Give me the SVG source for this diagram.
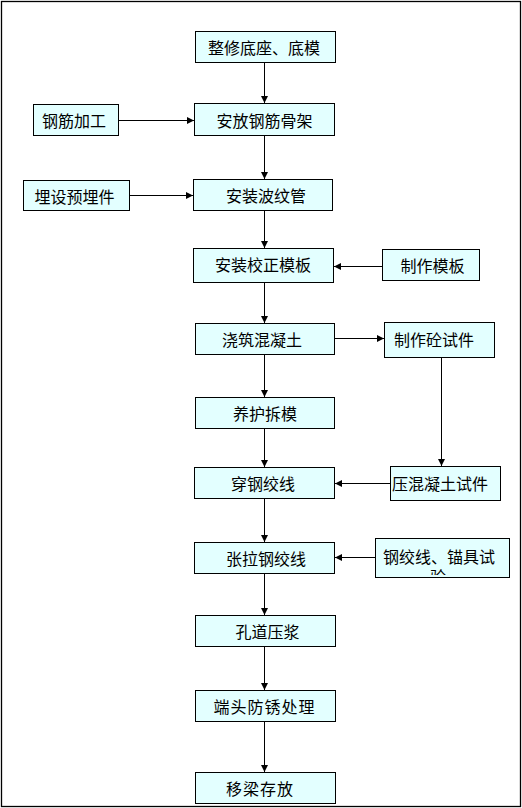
<svg xmlns="http://www.w3.org/2000/svg" width="522" height="808" viewBox="0 0 522 808">
<style>
.box{fill:#E3FFFF;stroke:#000;stroke-width:1}
.t{font-family:"Noto Sans CJK SC","Noto Sans",sans-serif;font-size:16px;fill:#000;dominant-baseline:central;text-anchor:middle}
.ts{text-anchor:start}
.c{stroke:#000;stroke-width:1;fill:none;marker-end:url(#ah)}
</style>
<defs>
<marker id="ah" markerUnits="userSpaceOnUse" markerWidth="8" markerHeight="8" refX="7" refY="3.5" orient="auto">
<path d="M0,0 L7,3.5 L0,7 Z" fill="#000"/>
</marker>
<clipPath id="clip14"><rect x="376" y="539" width="133" height="36"/></clipPath>
</defs>
<rect x="1.5" y="1.5" width="519" height="805" fill="#fff" stroke="#000" stroke-width="1.3"/>
<g id="connectors">
<line class="c" x1="264.5" y1="62" x2="264.5" y2="103"/>
<line class="c" x1="118" y1="120.5" x2="194" y2="120.5"/>
<line class="c" x1="264.5" y1="135" x2="264.5" y2="179"/>
<line class="c" x1="129" y1="195.5" x2="193" y2="195.5"/>
<line class="c" x1="264.5" y1="210" x2="264.5" y2="248"/>
<line class="c" x1="382" y1="266.5" x2="334" y2="266.5"/>
<line class="c" x1="264.5" y1="282" x2="264.5" y2="323"/>
<line class="c" x1="335" y1="338.5" x2="384" y2="338.5"/>
<line class="c" x1="264.5" y1="354" x2="264.5" y2="397"/>
<line class="c" x1="441.5" y1="357" x2="441.5" y2="466"/>
<line class="c" x1="264.5" y1="428" x2="264.5" y2="467"/>
<line class="c" x1="390" y1="483.5" x2="335" y2="483.5"/>
<line class="c" x1="264.5" y1="498" x2="264.5" y2="542"/>
<line class="c" x1="375" y1="557.5" x2="335" y2="557.5"/>
<line class="c" x1="264.5" y1="573" x2="264.5" y2="615"/>
<line class="c" x1="264.5" y1="646" x2="264.5" y2="690"/>
<line class="c" x1="264.5" y1="721" x2="264.5" y2="772"/>
</g>
<g id="n1"><rect class="box" x="195.5" y="31.5" width="140" height="31"/><text class="t" x="264" y="47">整修底座、底模</text></g>
<g id="n2"><rect class="box" x="33.5" y="104.5" width="85" height="31"/><text class="t" x="74" y="120">钢筋加工</text></g>
<g id="n3"><rect class="box" x="194.5" y="103.5" width="140" height="32"/><text class="t" x="264.5" y="119.5">安放钢筋骨架</text></g>
<g id="n4"><rect class="box" x="23.5" y="180.5" width="106" height="30"/><text class="t" x="74.5" y="195.5">埋设预埋件</text></g>
<g id="n5"><rect class="box" x="193.5" y="179.5" width="139" height="31"/><text class="t" x="266" y="195">安装波纹管</text></g>
<g id="n6"><rect class="box" x="193.5" y="248.5" width="140" height="34"/><text class="t" x="263" y="264">安装校正模板</text></g>
<g id="n7"><rect class="box" x="382.5" y="249.5" width="97" height="31"/><text class="t" x="432.5" y="265">制作模板</text></g>
<g id="n8"><rect class="box" x="195.5" y="323.5" width="139" height="31"/><text class="t" x="262" y="339">浇筑混凝土</text></g>
<g id="n9"><rect class="box" x="384.5" y="322.5" width="110" height="35"/><text class="t" x="434" y="339">制作砼试件</text></g>
<g id="n10"><rect class="box" x="195.5" y="397.5" width="139" height="31"/><text class="t" x="265" y="413">养护拆模</text></g>
<g id="n11"><rect class="box" x="194.5" y="467.5" width="140" height="31"/><text class="t" x="263" y="483">穿钢绞线</text></g>
<g id="n12"><rect class="box" x="390.5" y="466.5" width="110" height="34"/><text class="t ts" x="392" y="483">压混凝土试件</text></g>
<g id="n13"><rect class="box" x="194.5" y="542.5" width="140" height="31"/><text class="t" x="266" y="558">张拉钢绞线</text></g>
<g id="n14"><rect class="box" x="375.5" y="538.5" width="134" height="39"/><g clip-path="url(#clip14)"><text class="t ts" x="383" y="556">钢绞线、锚具试</text><text class="t" x="438" y="576">验</text></g></g>
<g id="n15"><rect class="box" x="195.5" y="615.5" width="140" height="31"/><text class="t" x="267.5" y="631">孔道压浆</text></g>
<g id="n16"><rect class="box" x="195.5" y="690.5" width="140" height="31"/><text class="t" x="264.5" y="706" letter-spacing="1">端头防锈处理</text></g>
<g id="n17"><rect class="box" x="195.5" y="772.5" width="140" height="31"/><text class="t" x="260" y="788" letter-spacing="1">移梁存放</text></g>
</svg>
